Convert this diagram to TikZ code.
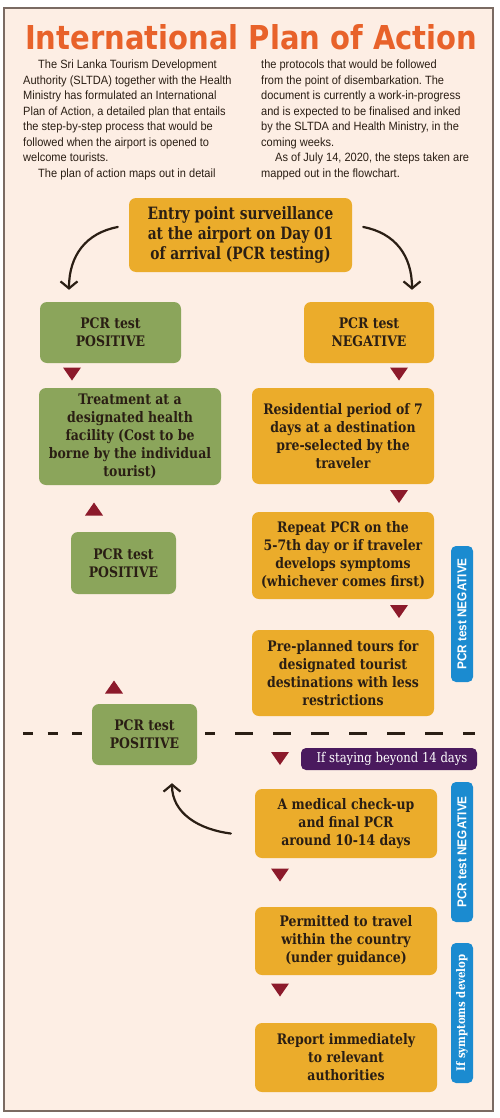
\documentclass[tikz,border=0pt]{standalone}
\usepackage{fontspec}
\usepackage{graphicx}
\usetikzlibrary{arrows.meta}
\frenchspacing

\newfontfamily\titlefont{DejaVu Sans}
\newfontfamily\bodyfont[FakeStretch=0.92]{Liberation Sans}
\newfontfamily\boxfont[FakeStretch=0.86]{DejaVu Serif}
\newfontfamily\entryfont[FakeStretch=0.81]{DejaVu Serif}
\newfontfamily\tagfont[FakeStretch=0.92]{Liberation Sans}

\definecolor{paper}{HTML}{FDEEE4}
\definecolor{frameline}{HTML}{7A6A62}
\definecolor{headline}{HTML}{E8622A}
\definecolor{ink}{HTML}{2A1E14}
\definecolor{amber}{HTML}{EBAC2B}
\definecolor{sage}{HTML}{8BA55B}
\definecolor{maroon}{HTML}{8C1A2B}
\definecolor{skyblue}{HTML}{1B8BD0}
\definecolor{plum}{HTML}{4A1A5E}

\tikzset{
  box/.style={rounded corners=7pt, inner sep=0pt, align=center, text=ink,
    font=\boxfont\bfseries\fontsize{14.5}{18}\selectfont},
  amberbox/.style={box, fill=amber},
  sagebox/.style={box, fill=sage},
  sidetag/.style={rounded corners=5pt, fill=skyblue, text=white, rotate=90,
    minimum height=22pt, inner sep=0pt},
  curvy/.style={line width=2.2pt, ink, line cap=round,
    -{Straight Barb[length=7pt,width=17pt,line width=2.2pt]}},
  cutline/.style={line width=3pt, ink},
  column/.style={anchor=north west, inner sep=0pt, align=left, text=ink,
    font=\bodyfont\fontsize{12}{15.5}\selectfont}
}

% small red markers between the steps
\newcommand\tdown[2]{\fill[maroon] (#1-9,#2-6.5) -- (#1+9,#2-6.5) -- (#1,#2+6.5) -- cycle;}
\newcommand\tup[2]{\fill[maroon] (#1-9,#2+6.5) -- (#1+9,#2+6.5) -- (#1,#2-6.5) -- cycle;}

\begin{document}
\begin{tikzpicture}[x=1pt,y=-1pt]
  \useasboundingbox (0,0) rectangle (500,1118);
  \fill[white] (0,0) rectangle (500,1118);
  \draw[frameline, line width=1.2pt, fill=paper] (4,8) rectangle (493,1111);

  \node[anchor=base west, inner sep=0pt, text=headline] (title) at (25,50)
    {\resizebox{452pt}{25pt}{\titlefont\bfseries International Plan of Action}};

  \node[column] (colL) at (23,60) {%
    \hspace*{15pt}The Sri Lanka Tourism Development\\
    Authority (SLTDA) together with the Health\\
    Ministry has formulated an International\\
    Plan of Action, a detailed plan that entails\\
    the step-by-step process that would be\\
    followed when the airport is opened to\\
    welcome tourists.\\
    \hspace*{15pt}The plan of action maps out in detail};
  \node[column] (colR) at (261,60) {%
    the protocols that would be followed\\
    from the point of disembarkation. The\\
    document is currently a work-in-progress\\
    and is expected to be finalised and inked\\
    by the SLTDA and Health Ministry, in the\\
    coming weeks.\\
    \hspace*{14pt}As of July 14, 2020, the steps taken are\\
    mapped out in the flowchart.};

  \node[amberbox, minimum width=223pt, minimum height=74pt,
    font=\entryfont\bfseries\fontsize{17}{20}\selectfont] (entry) at (240.5,235)
    {Entry point surveillance\\at the airport on Day 01\\of arrival (PCR testing)};

  \node[sagebox, minimum width=141pt, minimum height=61pt] (pos1) at (110.5,332.5) {PCR test\\POSITIVE};
  \node[amberbox, minimum width=130pt, minimum height=61pt] (neg1) at (369,332.5) {PCR test\\NEGATIVE};

  \node[sagebox, minimum width=182pt, minimum height=97pt] (treat) at (130,436.5)
    {Treatment at a\\designated health\\facility (Cost to be\\borne by the individual\\tourist)};
  \node[amberbox, minimum width=182pt, minimum height=96pt] (resid) at (343,436)
    {Residential period of 7\\days at a destination\\pre-selected by the\\traveler};

  \node[sagebox, minimum width=105pt, minimum height=62pt] (pos2) at (123.5,563) {PCR test\\POSITIVE};
  \node[amberbox, minimum width=182pt, minimum height=87pt] (repeat) at (343,555.5)
    {Repeat PCR on the\\5-7th day or if traveler\\develops symptoms\\(whichever comes first)};
  \node[amberbox, minimum width=182pt, minimum height=86pt] (tours) at (343,673)
    {Pre-planned tours for\\designated tourist\\destinations with less\\restrictions};

  \node[sagebox, minimum width=105pt, minimum height=61pt] (pos3) at (144.5,734.5) {PCR test\\POSITIVE};

  \node[rounded corners=5pt, fill=plum, text=white, minimum width=176pt, minimum height=22pt,
    inner sep=0pt, font=\boxfont\fontsize{13.5}{16}\selectfont] (stay) at (389,759)
    {\hspace*{6pt}If staying beyond 14 days};

  \node[amberbox, minimum width=182pt, minimum height=69pt] (med) at (346,823.5)
    {A medical check-up\\and final PCR\\around 10-14 days};
  \node[amberbox, minimum width=182pt, minimum height=68pt] (travel) at (346,941)
    {Permitted to travel\\within the country\\(under guidance)};
  \node[amberbox, minimum width=182pt, minimum height=69pt] (report) at (346,1057.5)
    {Report immediately\\to relevant\\authorities};

  \node[sidetag, minimum width=136pt, font=\tagfont\bfseries\fontsize{12.8}{15}\selectfont] (tagA) at (462,614) {PCR test NEGATIVE};
  \node[sidetag, minimum width=140pt, font=\tagfont\bfseries\fontsize{12.8}{15}\selectfont] (tagB) at (462,852) {PCR test NEGATIVE};
  \node[sidetag, minimum width=140pt, font=\boxfont\bfseries\fontsize{11.8}{14}\selectfont] (tagC) at (462,1013) {If symptoms develop};

  \draw[curvy] ([xshift=-11pt,yshift=8pt]entry.west) .. controls +(-32,6) and +(0,-34) .. ([xshift=-41.5pt,yshift=12pt]pos1.north);
  \draw[curvy] ([xshift=11pt,yshift=8pt]entry.east) .. controls +(32,6) and +(0,-34) .. ([xshift=43pt,yshift=12pt]neg1.north);
  \draw[curvy] ([xshift=-24pt,yshift=-10pt]med.west) .. controls +(-32,-4) and +(0,30) .. ([xshift=27.5pt,yshift=-18pt]pos3.south);

  \tdown{72}{374}
  \tdown{399}{374}
  \tdown{399}{496.5}
  \tup{94}{509}
  \tdown{399}{611.5}
  \tup{114}{687}
  \tdown{280}{758.5}
  \tdown{280}{875}
  \tdown{280}{990}

  \coordinate (cutL) at (23,733);
  \coordinate (cutR) at (475,733);
  \draw[cutline, dash pattern=on 10pt off 14.5pt] (cutL) -- ([xshift=-7pt]pos3.west |- cutL);
  \draw[cutline, dash pattern=on 18pt off 20pt, dash phase=8pt] ([xshift=8pt]pos3.east |- cutR) -- (cutR);
\end{tikzpicture}
\end{document}
